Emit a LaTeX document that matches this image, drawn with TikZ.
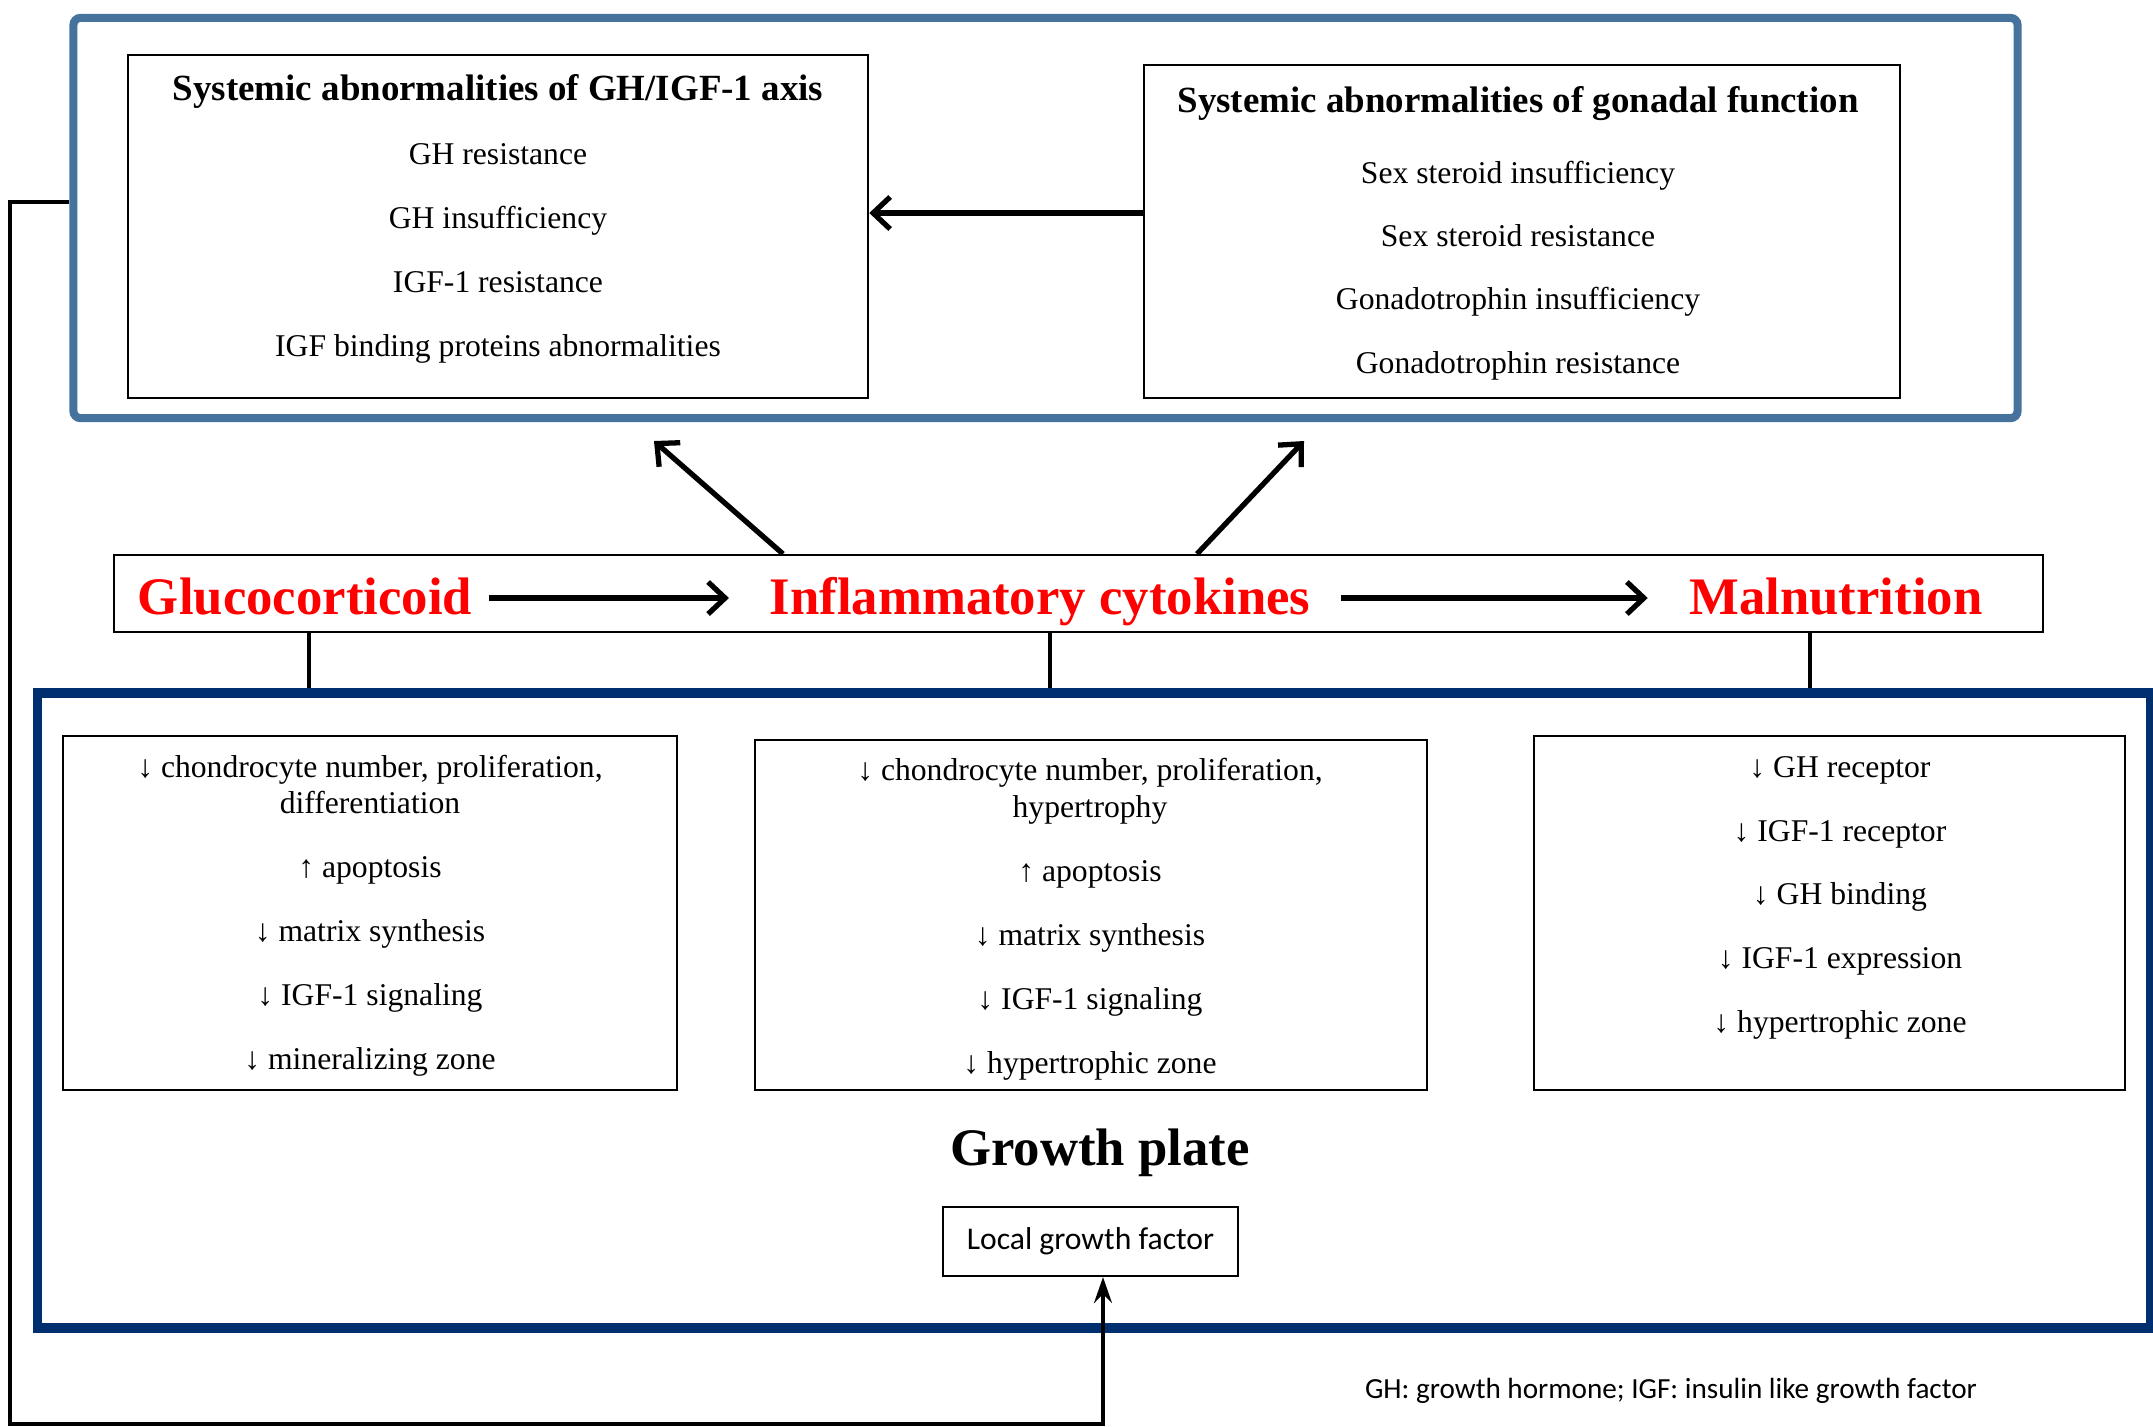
\documentclass[tikz,border=0pt]{standalone}
\usepackage{fontspec}
\setmainfont{Liberation Serif}
\newfontfamily\calibri{Carlito}
\usetikzlibrary{arrows.meta}
\definecolor{azul}{RGB}{70,114,158}
\definecolor{marinho}{RGB}{0,47,112}

\begin{document}
\begin{tikzpicture}[x=0.01cm,y=-0.01cm]
\tikzstyle{moldura}=[rectangle, line width=2.3pt, draw=azul, rounded corners=2pt]
\tikzstyle{caixa}=[rectangle, draw, line width=0.6pt]
\tikzstyle{lista}=[align=center, inner sep=0pt, anchor=base]
\tikzstyle{fator}=[text=red, font=\bfseries\fontsize{15}{18}\selectfont, inner sep=0pt, anchor=base]
\tikzstyle{seta}=[line width=1.5pt, -{Straight Barb[length=1.7mm,width=3.2mm]}]
\tikzstyle{liga}=[line width=1.3pt]
\tikzstyle{retorno}=[line width=1.1pt, -{Stealth[length=2.6mm,width=1.8mm,inset=0.9mm]}]
\useasboundingbox (0,0) rectangle (2153,1426);

 \node[moldura, minimum width=19.43cm, minimum height=4.00cm] (topo) at (1045.5,218) {};
 \node[caixa, minimum width=7.40cm, minimum height=3.43cm] (eixo) at (498,226.5) {};
 \node[caixa, minimum width=7.56cm, minimum height=3.33cm] (gonadal) at (1522,231.5) {};
 \node[lista, font=\fontsize{9}{18.2}\selectfont] (txeixo) at (498,356)
    {{\bfseries\fontsize{10.5}{12}\selectfont Systemic abnormalities of GH/IGF-1 axis}\\
     GH resistance\\GH insufficiency\\IGF-1 resistance\\IGF binding proteins abnormalities};
 \node[lista, font=\fontsize{9}{18}\selectfont] (txgonadal) at (1518,373)
    {{\bfseries\fontsize{10.5}{12}\selectfont Systemic abnormalities of gonadal function}\\[2pt]
     Sex steroid insufficiency\\Sex steroid resistance\\Gonadotrophin insufficiency\\Gonadotrophin resistance};
 \draw[seta] (gonadal.west |- 0,213) -- (eixo.east |- 0,213);

 \node[caixa, minimum width=19.27cm, minimum height=0.77cm] (faixa) at (1078.5,593.5) {};
 \node[fator] (gluco) at (305,614) {Glucocorticoid};
 \node[fator] (infl) at (1040,614) {Inflammatory cytokines};
 \node[fator] (malnu) at (1836,614) {Malnutrition};
 \draw[seta, shorten <=0.16cm, shorten >=0.40cm] (gluco.east |- 0,598) -- (infl.west |- 0,598);
 \draw[seta, shorten <=0.30cm, shorten >=0.41cm] (infl.east |- 0,598) -- (malnu.west |- 0,598);
 \coordinate (alvo1) at (654,441);
 \coordinate (alvo2) at (1304,441);
 \draw[seta] (faixa.north -| 783,0) -- (alvo1);
 \draw[seta] (faixa.north -| 1197,0) -- (alvo2);

 \node[moldura, draw=marinho, line width=2.7pt, rounded corners=0pt, minimum width=21.12cm, minimum height=6.35cm] (placa) at (1094,1010.5) {};
 \draw[liga] (faixa.south -| 309,0) -- (placa.north -| 309,0);
 \draw[liga] (faixa.south -| 1050,0) -- (placa.north -| 1050,0);
 \draw[liga] (faixa.south -| 1810,0) -- (placa.north -| 1810,0);

 \node[caixa, minimum width=6.14cm, minimum height=3.54cm] (glucobox) at (370,913) {};
 \node[caixa, minimum width=6.72cm, minimum height=3.50cm] (inflbox) at (1091,915) {};
 \node[caixa, minimum width=5.91cm, minimum height=3.54cm] (malnubox) at (1829.5,913) {};
 \node[lista, font=\fontsize{9}{10.3}\selectfont] (txgluco) at (370,1069.5)
    {↓ chondrocyte number, proliferation,\\differentiation\\[7.9pt]
     ↑ apoptosis\\[7.9pt]↓ matrix synthesis\\[7.9pt]↓ IGF-1 signaling\\[7.9pt]↓ mineralizing zone};
 \node[lista, font=\fontsize{9}{10.3}\selectfont] (txinfl) at (1090,1073)
    {↓ chondrocyte number, proliferation,\\hypertrophy\\[7.9pt]
     ↑ apoptosis\\[7.9pt]↓ matrix synthesis\\[7.9pt]↓ IGF-1 signaling\\[7.9pt]↓ hypertrophic zone};
 \node[lista, font=\fontsize{9}{10.3}\selectfont] (txmalnu) at (1840,1032)
    {↓ GH receptor\\[7.8pt]↓ IGF-1 receptor\\[7.8pt]↓ GH binding\\[7.8pt]↓ IGF-1 expression\\[7.8pt]↓ hypertrophic zone};

 \node[lista, font=\bfseries\fontsize{15}{18}\selectfont] (titulo) at (1100,1165) {Growth plate};
 \node[caixa, minimum width=2.95cm, minimum height=0.69cm, font=\calibri\fontsize{9}{11}\selectfont] (local) at (1090.5,1241.5) {Local growth factor};
 \node[lista, font=\calibri\fontsize{8.3}{10}\selectfont] (nota) at (1671,1398) {GH: growth hormone; IGF: insulin like growth factor};

 \draw[retorno] (topo.west |- 0,202) -| (10,1424) -| ([xshift=0.125cm]local.south);
\end{tikzpicture}
\end{document}
